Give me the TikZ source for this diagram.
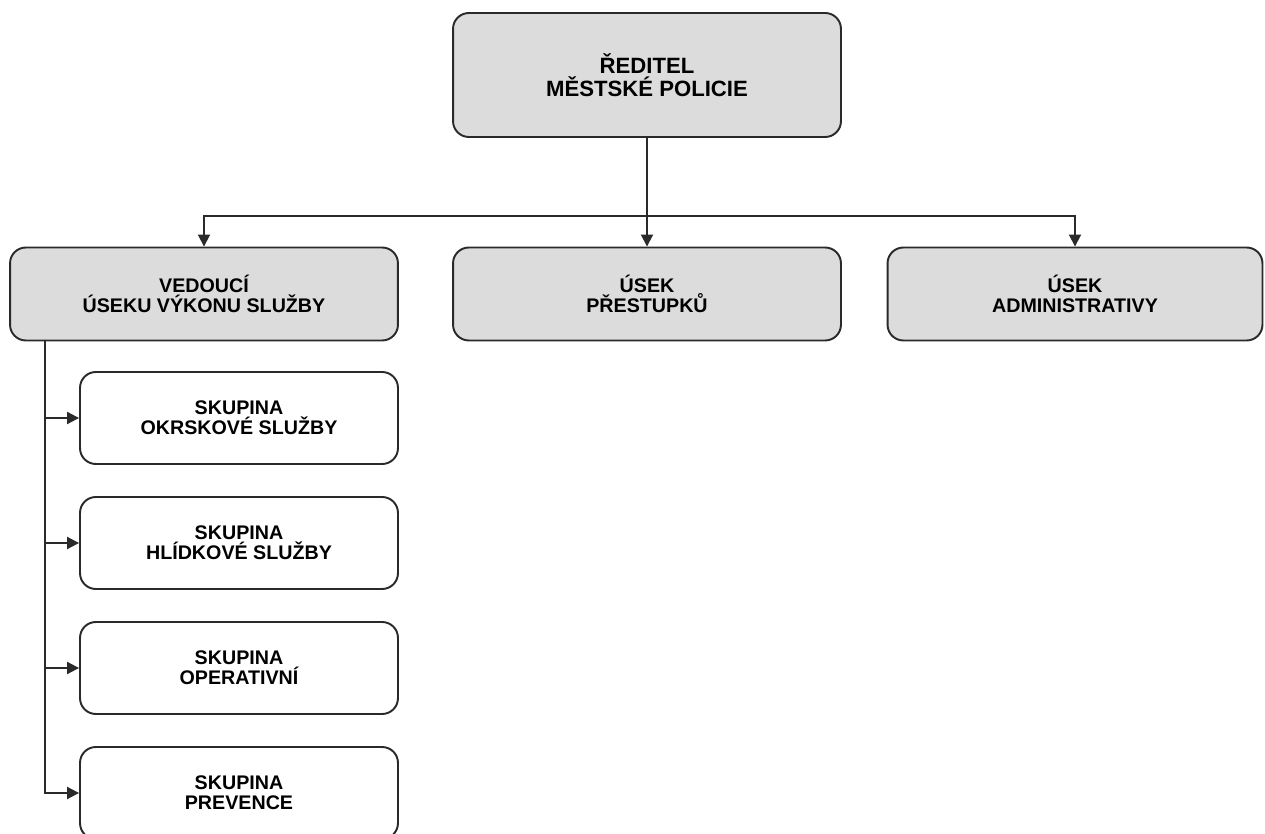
\documentclass[tikz,border=0pt]{standalone}
\usepackage{fontspec}
\setmainfont{Liberation Sans}
\usepackage{tikz}
\usetikzlibrary{arrows.meta, positioning, calc}
\usepackage{xcolor}
\definecolor{boxgray}{HTML}{DCDCDC}
\definecolor{linegray}{HTML}{2A2A2A}

\tikzset{
    orgbox/.style={draw=linegray, line width=1.1pt, rounded corners=9pt, align=center, font=\bfseries\fontsize{11.2}{11.6}\selectfont, inner sep=2pt},
    headbox/.style={orgbox, fill=boxgray, minimum width=7.76cm, minimum height=1.86cm},
    groupbox/.style={orgbox, fill=white, minimum width=6.36cm, minimum height=1.84cm},
    arr/.style={draw=linegray, line width=1.1pt, -{Triangle[length=0.24cm, width=0.24cm]}}
}

\begin{document}
\begin{tikzpicture}[x=0.02cm, y=-0.02cm]
                \useasboundingbox (0,0) rectangle (1265,834);
                % vedeni
                \node[headbox, minimum height=2.48cm, font=\bfseries\fontsize{12.6}{13.2}\selectfont] (reditel) at (647,75) {ŘEDITEL\\MĚSTSKÉ POLICIE};
                \node[headbox] (vedouci) at (204,294) {VEDOUCÍ\\ÚSEKU VÝKONU SLUŽBY};
                \node[headbox] (prestupky) at (647,294) {ÚSEK\\PŘESTUPKŮ};
                \node[headbox, minimum width=7.5cm] (administrativa) at (1075,294) {ÚSEK\\ADMINISTRATIVY};
                % skupiny
                \node[groupbox] (okrsek) at (239,418) {SKUPINA\\OKRSKOVÉ SLUŽBY};
                \node[groupbox] (hlidka) at (239,543) {SKUPINA\\HLÍDKOVÉ SLUŽBY};
                \node[groupbox] (operativa) at (239,668) {SKUPINA\\OPERATIVNÍ};
                \node[groupbox] (prevence) at (239,793) {SKUPINA\\PREVENCE};
                % spoje
                \coordinate (rozvod) at (647,216);
                \coordinate (pater) at (45,340);
                \draw[arr] (reditel.south) -- (prestupky.north);
                \draw[arr] (rozvod) -| (vedouci.north);
                \draw[arr] (rozvod) -| (administrativa.north);
                \foreach \skup in {okrsek, hlidka, operativa, prevence}
                    \draw[arr] (pater) |- (\skup.west);
            \end{tikzpicture}
\end{document}
